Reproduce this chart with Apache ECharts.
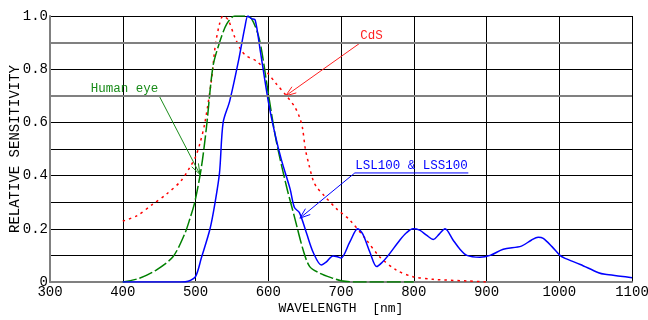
<!DOCTYPE html>
<html>
<head>
<meta charset="utf-8">
<script src="https://cdn.jsdelivr.net/npm/echarts@6/dist/echarts.min.js"></script>
<style>
  html, body { margin: 0; padding: 0; background: #fff; }
  #c { width: 648px; height: 320px; }
</style>
</head>
<body>
<div id="c"></div>
<script>
// [wavelength nm, relative sensitivity]
const lsl100 = [[400,0],[480,0],[490,0.003],[500,0.02],[508,0.09],[520,0.2],[527,0.3],[533,0.41],[538,0.6],[547,0.68],[559,0.83],[568,0.96],[572,1.0],[577,0.99],[582,0.985],[589,0.87],[600,0.68],[609,0.56],[618,0.46],[630,0.35],[636,0.28],[643,0.26],[653,0.18],[662,0.11],[673,0.064],[680,0.076],[689,0.098],[695,0.095],[700,0.09],[712,0.15],[723,0.2],[730,0.18],[740,0.11],[749,0.058],[757,0.075],[765,0.1],[781,0.158],[790,0.185],[799,0.2],[808,0.195],[818,0.175],[827,0.16],[835,0.18],[843,0.2],[854,0.158],[863,0.125],[873,0.1],[891,0.093],[905,0.1],[923,0.123],[948,0.135],[962,0.158],[971,0.168],[978,0.164],[990,0.133],[1001,0.1],[1008,0.089],[1029,0.066],[1054,0.035],[1063,0.029],[1084,0.022],[1100,0.016]];
const humanEye = [[400,0],[423,0.014],[446,0.045],[469,0.095],[485,0.18],[492,0.235],[499,0.3],[508,0.43],[515,0.58],[524,0.81],[533,0.9],[543,0.97],[554,1.0],[568,1.0],[577,0.99],[588,0.91],[600,0.71],[611,0.53],[625,0.36],[636,0.245],[648,0.12],[657,0.058],[671,0.033],[689,0.014],[700,0.005],[720,0],[800,0]];
const cds = [[400,0.229],[420,0.25],[440,0.29],[460,0.33],[480,0.38],[492,0.43],[500,0.47],[506,0.52],[513,0.6],[522,0.76],[527,0.885],[533,0.97],[538,1.0],[545,0.985],[554,0.92],[563,0.87],[570,0.85],[584,0.83],[598,0.79],[611,0.745],[625,0.70],[636,0.66],[643,0.62],[647,0.58],[651,0.5],[656,0.44],[662,0.38],[667,0.355],[676,0.327],[694,0.275],[712,0.233],[735,0.158],[753,0.095],[776,0.045],[799,0.02],[827,0.01],[873,0.004],[900,0]];

const yTickLabels = ['0', '', '0.2', '', '0.4', '', '0.6', '', '0.8', '', '1.0'];

// callouts: label, underline from..to (nm) at level, arrow tip
const callouts = [
  { text: 'CdS', color: '#ff2020', line: [726, 758, 0.898], from: 'left', tip: [624, 0.70] },
  { text: 'Human eye', color: '#1a8c1a', line: [355, 450, 0.70], from: 'right', tip: [506, 0.405] },
  { text: 'LSL100 & LSS100', color: '#0000ff', line: [719, 875, 0.41], from: 'left', tip: [643.5, 0.24] }
];

const mono = '"Liberation Mono", "DejaVu Sans Mono", monospace';
const chart = echarts.init(document.getElementById('c'));

chart.setOption({
  animation: false,
  grid: { left: 50, right: 16, top: 16, bottom: 38, containLabel: false, outerBoundsMode: 'none' },
  xAxis: {
    type: 'value', min: 300, max: 1100, interval: 100,
    name: 'WAVELENGTH  [nm]', nameLocation: 'middle', nameGap: 20, nameMoveOverlap: false,
    nameTextStyle: { fontFamily: mono, fontSize: 13, color: '#000' },
    axisLine: { lineStyle: { color: '#808080', width: 2 } },
    axisTick: { show: false },
    axisLabel: { fontFamily: mono, fontSize: 14, color: '#000', margin: 3, formatter: (v) => String(v) },
    splitLine: { lineStyle: { color: '#000', width: 1 } }
  },
  yAxis: {
    type: 'value', min: 0, max: 1, interval: 0.1,
    name: 'RELATIVE SENSITIVITY', nameLocation: 'middle', nameGap: 28, nameMoveOverlap: false,
    nameTextStyle: { fontFamily: mono, fontSize: 14, color: '#000' },
    axisLine: { show: true, lineStyle: { color: '#808080', width: 2 } },
    axisTick: { show: false },
    axisLabel: {
      fontFamily: mono, fontSize: 14, color: '#000', margin: 2,
      formatter: (v) => yTickLabels[Math.round(v * 10)]
    },
    splitLine: { lineStyle: { color: '#000', width: 1 } }
  },
  series: [
    {
      name: 'CdS', type: 'line', data: cds, smooth: 0.3, showSymbol: false,
      lineStyle: { color: '#ff0000', width: 1.5, type: [2.5, 4] }
    },
    {
      name: 'Human eye', type: 'line', data: humanEye, smooth: 0.3, showSymbol: false,
      lineStyle: { color: '#008000', width: 1.5, type: [14, 3] }
    },
    {
      name: 'LSL100 & LSS100', type: 'line', data: lsl100, smooth: 0.3, showSymbol: false,
      lineStyle: { color: '#0000ff', width: 1.5 },
      markLine: {
        silent: true, symbol: 'none', label: { show: false },
        lineStyle: { color: '#808080', width: 2, type: 'solid' },
        data: [{ yAxis: 0.9 }, { yAxis: 0.7 }]
      }
    }
  ]
});

// callout labels with leader arrows
const px = (p) => chart.convertToPixel({ gridIndex: 0 }, p);
const graphics = [];
callouts.forEach((c) => {
  const a = px([c.line[0], c.line[2]]);
  const b = px([c.line[1], c.line[2]]);
  const t = px(c.tip);
  const s = c.from === 'left' ? a : b;
  graphics.push({
    type: 'text', x: (a[0] + b[0]) / 2, y: a[1] - 1,
    style: { text: c.text, fill: c.color, fontFamily: mono, fontSize: 12.5, align: 'center', verticalAlign: 'bottom' }
  });
  graphics.push({ type: 'line', shape: { x1: a[0], y1: a[1], x2: b[0], y2: b[1] }, style: { stroke: c.color, lineWidth: 1 } });
  graphics.push({ type: 'line', shape: { x1: s[0], y1: s[1], x2: t[0], y2: t[1] }, style: { stroke: c.color, lineWidth: 1 } });
  const ang = Math.atan2(s[1] - t[1], s[0] - t[0]);
  [-0.35, 0.35].forEach((d) => {
    graphics.push({
      type: 'line',
      shape: { x1: t[0], y1: t[1], x2: t[0] + 11 * Math.cos(ang + d), y2: t[1] + 11 * Math.sin(ang + d) },
      style: { stroke: c.color, lineWidth: 1 }
    });
  });
});
chart.setOption({ graphic: graphics });
</script>
</body>
</html>
